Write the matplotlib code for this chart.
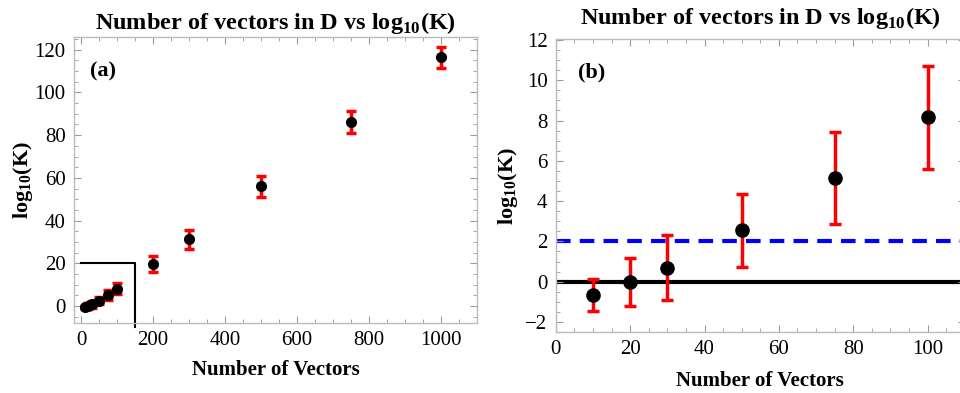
import matplotlib
matplotlib.use("Agg")
import matplotlib.pyplot as plt
from matplotlib.ticker import MultipleLocator

plt.rcParams['font.family'] = ['Liberation Serif', 'DejaVu Serif']
plt.rcParams['mathtext.fontset'] = 'custom'
plt.rcParams['mathtext.rm'] = 'Liberation Serif'
plt.rcParams['mathtext.bf'] = 'Liberation Serif:bold'

# Data
n_vectors = [10, 20, 30, 50, 75, 100, 200, 300, 500, 750, 1000]
log10_k = [-0.65, 0.0, 0.7, 2.55, 5.15, 8.15, 19.6, 31.3, 56.0, 86.0, 116.5]
log10_k_err = [0.8, 1.2, 1.6, 1.8, 2.3, 2.55, 3.6, 4.4, 5.0, 5.2, 5.0]

zoom_n = n_vectors[:6]
zoom_k = log10_k[:6]
zoom_err = log10_k_err[:6]

threshold = 2.0
title = r"Number of vectors in D vs log$_{\mathbf{10}}$(K)"
ylabel = r"log$_{\mathbf{10}}$(K)"
xlabel = "Number of Vectors"

fig = plt.figure(figsize=(9.6, 3.93), dpi=100)
ax1 = fig.add_axes([0.0771, 0.178, 0.4198, 0.728])
ax2 = fig.add_axes([0.579, 0.155, 0.426, 0.746])

frame_col = '#bbbbbb'

def style(ax, xmaj, xmin, ymaj, ymin):
    for s in ax.spines.values():
        s.set_color(frame_col)
        s.set_linewidth(1.0)
    ax.xaxis.set_major_locator(MultipleLocator(xmaj))
    ax.xaxis.set_minor_locator(MultipleLocator(xmin))
    ax.yaxis.set_major_locator(MultipleLocator(ymaj))
    ax.yaxis.set_minor_locator(MultipleLocator(ymin))
    ax.tick_params(which='both', direction='in', top=True, right=True, color='#999999')
    ax.tick_params(which='major', length=5, width=0.8, labelsize=15, pad=6)
    ax.tick_params(which='minor', length=3, width=0.6)

# Panel (a)
ax1.errorbar(n_vectors, log10_k, yerr=log10_k_err, fmt='o', color='black', ms=7,
             ecolor='red', elinewidth=2.5, capsize=3.5, capthick=2.5, zorder=3)
ax1.plot([0, 150, 150], [20, 20, -10], color='black', lw=1.5, clip_on=False, zorder=2)
ax1.set_xlim(-20, 1100)
ax1.set_ylim(-8, 126)
style(ax1, 200, 50, 20, 5)
ax1.set_title(title, fontsize=17.5, fontweight='bold', pad=6)
ax1.set_xlabel(xlabel, fontsize=15, fontweight='bold', labelpad=7)
ax1.set_ylabel(ylabel, fontsize=16, fontweight='bold', labelpad=0)
ax1.text(0.04, 0.88, "(a)", transform=ax1.transAxes, fontsize=16, fontweight='bold',
         va='center', ha='left')

# Panel (b)
ax2.axhline(0, color='black', lw=3, zorder=1)
ax2.axhline(threshold, color='blue', lw=3, ls=(0, (3.5, 2.2)), zorder=1)
ax2.errorbar(zoom_n, zoom_k, yerr=zoom_err, fmt='o', color='black', ms=9.5,
             ecolor='red', elinewidth=2.5, capsize=4, capthick=2.5, zorder=3)
ax2.set_xlim(0, 110)
ax2.set_ylim(-2.5, 12.05)
style(ax2, 20, 5, 2, 0.5)
ax2.set_title(title, fontsize=17.5, fontweight='bold', pad=11)
ax2.set_xlabel(xlabel, fontsize=15, fontweight='bold', labelpad=8)
ax2.set_ylabel(ylabel, fontsize=16, fontweight='bold', labelpad=4)
ax2.text(0.054, 0.887, "(b)", transform=ax2.transAxes, fontsize=16, fontweight='bold',
         va='center', ha='left')

fig.savefig("out.png", dpi=100)
